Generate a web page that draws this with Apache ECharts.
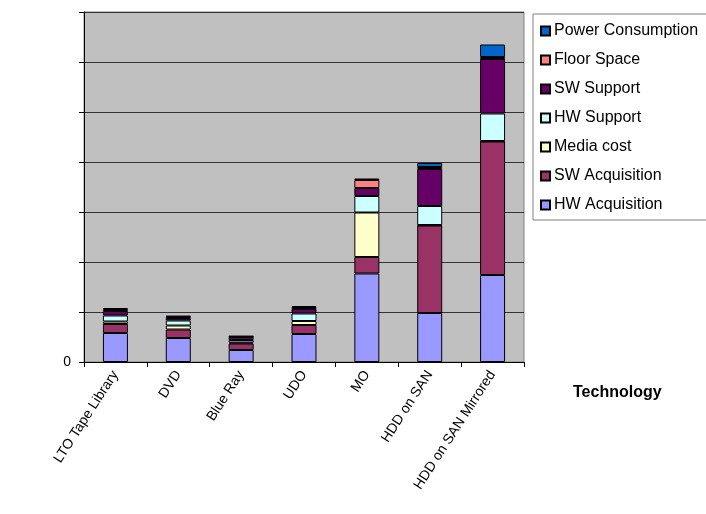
<!DOCTYPE html>
<html>
<head>
<meta charset="utf-8">
<script src="https://cdn.jsdelivr.net/npm/echarts@6/dist/echarts.min.js"></script>
<style>
  html, body { margin: 0; padding: 0; background: #fff; }
  #chart { width: 706px; height: 514px; }
</style>
</head>
<body>
<div id="chart"></div>
<script>
// Cost components per storage technology (stacked, bottom to top)
const technologies = ['LTO Tape Library', 'DVD', 'Blue Ray', 'UDO', 'MO', 'HDD on SAN', 'HDD on SAN Mirrored'];

const hwAcquisition    = [58, 48, 24, 56, 177, 98, 174];
const swAcquisition    = [18, 17, 13, 18, 33, 175, 267];
const mediaCost        = [5, 8, 2, 8, 89, 1, 1];
const hwSupport        = [12, 10, 5, 15, 33, 38, 55];
const swSupport        = [9, 5, 6, 9, 16, 74, 109];
const floorSpace       = [4, 3, 1, 4, 16, 4, 4];
const powerConsumption = [2, 1, 1, 2, 3, 8, 25];

const yTickLabels = ['0'];

const FONT = '"Liberation Sans", Arial, sans-serif';

const seriesDefs = [
  { name: 'HW Acquisition',    data: hwAcquisition,    color: '#9999FF' },
  { name: 'SW Acquisition',    data: swAcquisition,    color: '#993366' },
  { name: 'Media cost',        data: mediaCost,        color: '#FFFFCC' },
  { name: 'HW Support',        data: hwSupport,        color: '#CCFFFF' },
  { name: 'SW Support',        data: swSupport,        color: '#660066' },
  { name: 'Floor Space',       data: floorSpace,       color: '#FF8080' },
  { name: 'Power Consumption', data: powerConsumption, color: '#0066CC' }
];

const chart = echarts.init(document.getElementById('chart'), null, { renderer: 'canvas' });

chart.setOption({
  animation: false,
  textStyle: { fontFamily: FONT },
  grid: {
    left: 84, right: 182, top: 12, bottom: 152,
    show: true, backgroundColor: '#C0C0C0', borderColor: '#808080', borderWidth: 1
  },
  legend: {
    orient: 'vertical',
    left: 533, top: 14,
    padding: [9, 40, 7, 7],
    borderColor: '#808080', borderWidth: 1,
    itemWidth: 9, itemHeight: 9, itemGap: 13,
    icon: 'rect',
    data: seriesDefs.map(s => s.name).reverse(),
    textStyle: { fontFamily: FONT, fontSize: 16, lineHeight: 16, color: '#000', padding: [0, 0, 0, -1] }
  },
  xAxis: {
    type: 'category',
    data: technologies,
    name: 'Technology',
    nameLocation: 'end',
    nameGap: 49,
    nameTextStyle: { fontFamily: FONT, fontSize: 16, fontWeight: 'bold', color: '#000', verticalAlign: 'top', padding: [23, 0, 0, 0] },
    axisLine: { lineStyle: { color: '#000', width: 1 } },
    axisTick: { show: true, length: 5, lineStyle: { color: '#000' } },
    axisLabel: { rotate: 57, margin: 10, fontSize: 14, color: '#000', fontFamily: FONT, interval: 0 },
    splitLine: { show: false }
  },
  yAxis: {
    type: 'value',
    min: 0, max: 700, interval: 100,
    axisLine: { show: true, lineStyle: { color: '#000', width: 1 } },
    axisTick: { show: true, length: 5, lineStyle: { color: '#000' } },
    axisLabel: {
      fontSize: 14, color: '#000', fontFamily: FONT, margin: 13,
      formatter: v => (v === 0 ? yTickLabels[0] : '')
    },
    splitLine: { show: true, lineStyle: { color: '#333', width: 1 } }
  },
  series: seriesDefs.map(s => ({
    name: s.name,
    type: 'bar',
    stack: 'cost',
    barWidth: 25,
    data: s.data,
    itemStyle: { color: s.color, borderColor: '#000', borderWidth: 1 },
    emphasis: { disabled: true }
  }))
});
</script>
</body>
</html>
